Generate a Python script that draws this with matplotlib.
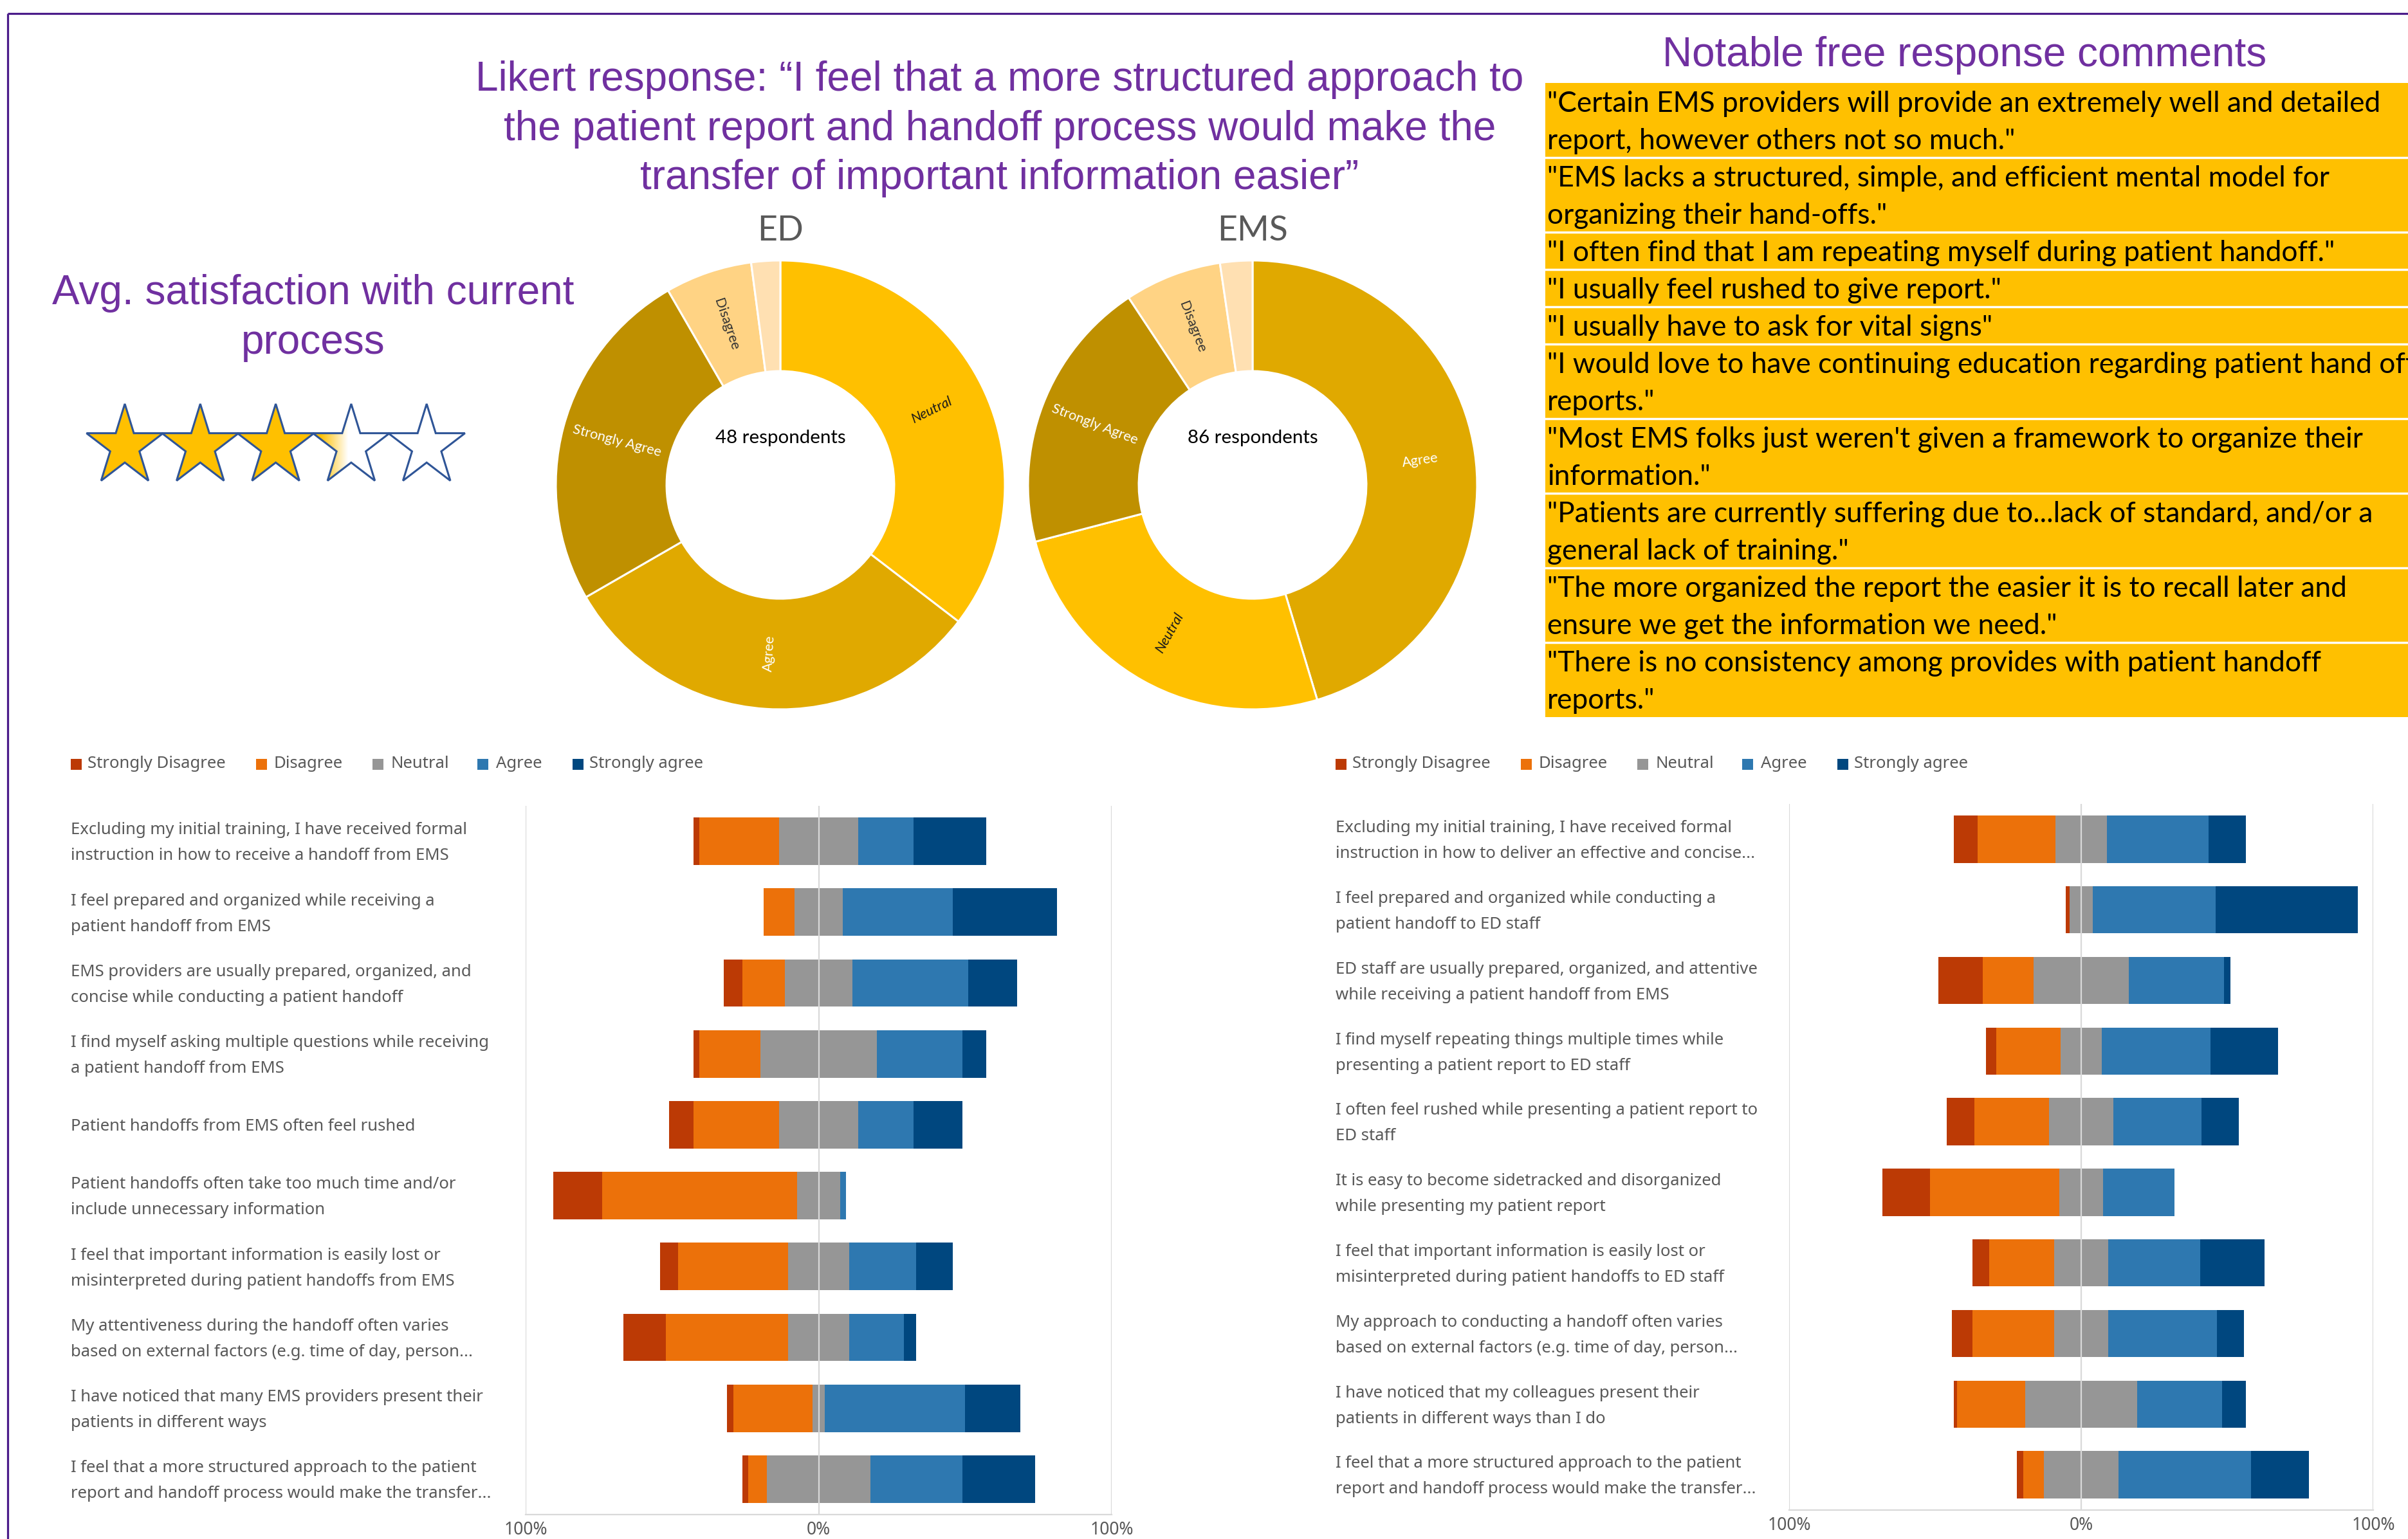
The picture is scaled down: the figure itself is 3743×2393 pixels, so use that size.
import numpy as np
import matplotlib
matplotlib.use('Agg')
import matplotlib.pyplot as plt
from matplotlib.patches import Polygon, Rectangle

# ---------------- data ----------------
title_lines = ['Likert response: \u201cI feel that a more structured approach to',
               'the patient report and handoff process would make the',
               'transfer of important information easier\u201d']
sat_title = ['Avg. satisfaction with current', 'process']
avg_satisfaction = 3.3
max_stars = 5

donut_titles = ['ED', 'EMS']
donut_levels = ['Strongly Disagree', 'Disagree', 'Neutral', 'Agree', 'Strongly Agree']
ed_donut = [1, 3, 17, 15, 12]
ems_donut = [2, 6, 22, 39, 17]
donut_center = ['48 respondents', '86 respondents']

comments_title = 'Notable free response comments'
comments = [
    ['"Certain EMS providers will provide an extremely well and detailed', 'report, however others not so much."'],
    ['"EMS lacks a structured, simple, and efficient mental model for', 'organizing their hand-offs."'],
    ['"I often find that I am repeating myself during patient handoff."'],
    ['"I usually feel rushed to give report."'],
    ['"I usually have to ask for vital signs"'],
    ['"I would love to have continuing education regarding patient hand off', 'reports."'],
    ['"Most EMS folks just weren\'t given a framework to organize their', 'information."'],
    ['"Patients are currently suffering due to...lack of standard, and/or a', 'general lack of training."'],
    ['"The more organized the report the easier it is to recall later and', 'ensure we get the information we need."'],
    ['"There is no consistency among provides with patient handoff', 'reports."'],
]

likert_levels = ['Strongly Disagree', 'Disagree', 'Neutral', 'Agree', 'Strongly agree']

ed_questions = [
    ['Excluding my initial training, I have received formal', 'instruction in how to receive a handoff from EMS'],
    ['I feel prepared and organized while receiving a', 'patient handoff from EMS'],
    ['EMS providers are usually prepared, organized, and', 'concise while conducting a patient handoff'],
    ['I find myself asking multiple questions while receiving', 'a patient handoff from EMS'],
    ['Patient handoffs from EMS often feel rushed'],
    ['Patient handoffs often take too much time and/or', 'include unnecessary information'],
    ['I feel that important information is easily lost or', 'misinterpreted during patient handoffs from EMS'],
    ['My attentiveness during the handoff often varies', 'based on external factors (e.g. time of day, person...'],
    ['I have noticed that many EMS providers present their', 'patients in different ways'],
    ['I feel that a more structured approach to the patient', 'report and handoff process would make the transfer...'],
]
ed_n = 48
ed_sd = [1, 0, 3, 1, 4, 8, 3, 7, 1, 1]
ed_d = [13, 5, 7, 10, 14, 32, 18, 20, 13, 3]
ed_ne = [13, 8, 11, 19, 13, 7, 10, 10, 2, 17]
ed_a = [9, 18, 19, 14, 9, 1, 11, 9, 23, 15]
ed_sa = [12, 17, 8, 4, 8, 0, 6, 2, 9, 12]

ems_questions = [
    ['Excluding my initial training, I have received formal', 'instruction in how to deliver an effective and concise...'],
    ['I feel prepared and organized while conducting a', 'patient handoff to ED staff'],
    ['ED staff are usually prepared, organized, and attentive', 'while receiving a patient handoff from EMS'],
    ['I find myself repeating things multiple times while', 'presenting a patient report to ED staff'],
    ['I often feel rushed while presenting a patient report to', 'ED staff'],
    ['It is easy to become sidetracked and disorganized', 'while presenting my patient report'],
    ['I feel that important information is easily lost or', 'misinterpreted during patient handoffs to ED staff'],
    ['My approach to conducting a handoff often varies', 'based on external factors (e.g. time of day, person...'],
    ['I have noticed that my colleagues present their', 'patients in different ways than I do'],
    ['I feel that a more structured approach to the patient', 'report and handoff process would make the transfer...'],
]
ems_n = 86
ems_sd = [7, 1, 13, 3, 8, 14, 5, 6, 1, 2]
ems_d = [23, 0, 15, 19, 22, 38, 19, 24, 20, 6]
ems_ne = [15, 7, 28, 12, 19, 13, 16, 16, 33, 22]
ems_a = [30, 36, 28, 32, 26, 21, 27, 32, 25, 39]
ems_sa = [11, 42, 2, 20, 11, 0, 19, 8, 7, 17]

axis_ticks = [-100, 0, 100]
axis_ticklabels = ['100%', '0%', '100%']

# ---------------- styles ----------------
PURPLE = '#7030A0'
FRAME = '#4B1C8A'
GOLD = '#FFC000'
GRAYTXT = '#595959'
BAR_COLORS = ['#BC3A05', '#EC710A', '#969696', '#2E78B0', '#00477F']
DONUT_COLORS = {'Strongly Disagree': '#FFE0B2', 'Disagree': '#FFD384', 'Neutral': '#FFC000',
                'Agree': '#E0A900', 'Strongly Agree': '#BF9000'}
DONUT_TXT = {'Strongly Disagree': '#333333', 'Disagree': '#333333', 'Neutral': '#1a1a1a',
             'Agree': 'white', 'Strongly Agree': 'white'}
TITLE_FONT = 'Liberation Sans'
BODY_FONT = 'Lato'
CHART_FONT = 'Noto Sans'

W, H = 3743, 2393
fig = plt.figure(figsize=(W / 100, H / 100), dpi=100)
fig.patch.set_facecolor('white')
bg = fig.add_axes([0, 0, 1, 1])
bg.set_xlim(0, W)
bg.set_ylim(H, 0)
bg.axis('off')
renderer = fig.canvas.get_renderer()


def fax(x0, y0, x1, y1):
    return fig.add_axes([x0 / W, 1 - y1 / H, (x1 - x0) / W, (y1 - y0) / H])


def fit(t, target):
    w = t.get_window_extent(renderer).width
    t.set_fontsize(t.get_fontsize() * target / w)
    return t.get_fontsize()


# ---------------- frame ----------------
bg.plot([12, W + 5], [21, 21], color=FRAME, lw=2.3, solid_capstyle='butt')
bg.plot([12, 12], [21, H + 5], color=FRAME, lw=2.3, solid_capstyle='butt')

# ---------------- main title ----------------
t = bg.text(1554, 124, title_lines[0], ha='center', va='center', color=PURPLE,
            family=TITLE_FONT, fontsize=40)
fs = fit(t, 1630)
for line, y in zip(title_lines[1:], [201, 277]):
    bg.text(1554, y, line, ha='center', va='center', color=PURPLE, family=TITLE_FONT, fontsize=fs)

# ---------------- satisfaction ----------------
t = bg.text(487, 456, sat_title[0], ha='center', va='center', color=PURPLE, family=TITLE_FONT, fontsize=40)
fs = fit(t, 812)
bg.text(487, 533, sat_title[1], ha='center', va='center', color=PURPLE, family=TITLE_FONT, fontsize=fs)


def star_pts(cx, cy, rx, ry):
    pts = []
    for k in range(10):
        a = np.deg2rad(90 + 36 * k)
        f = 1.0 if k % 2 == 0 else 0.382
        pts.append((cx + rx * f * np.cos(a), cy - ry * f * np.sin(a)))
    return pts


rx, ry, cy = 62.6, 66.0, 694
for i in range(max_stars):
    cx = 194 + 117.3 * i
    pts = star_pts(cx, cy, rx, ry)
    frac = float(np.clip(avg_satisfaction - i, 0, 1))
    face = GOLD if frac >= 1 else 'white'
    bg.add_patch(Polygon(pts, closed=True, facecolor=face, edgecolor='none', zorder=2))
    if 0 < frac < 1:
        w = 2 * rx * 0.951
        x0 = cx - w / 2
        xs = np.linspace(x0, x0 + w, 300)
        s0, s1 = x0 + (frac - 0.2) * w, x0 + (frac + 0.16) * w
        alpha = np.clip((s1 - xs) / (s1 - s0), 0, 1)
        img = np.zeros((2, 300, 4))
        img[..., 0], img[..., 1], img[..., 2] = 1.0, 0.753, 0.0
        img[..., 3] = alpha
        im = bg.imshow(img, extent=[x0, x0 + w, cy + ry, cy - ry], aspect='auto', zorder=3,
                       interpolation='bilinear')
        clip = Polygon(pts, closed=True, facecolor='none', edgecolor='none', transform=bg.transData)
        bg.add_patch(clip)
        im.set_clip_path(clip)
    bg.add_patch(Polygon(pts, closed=True, facecolor='none', edgecolor='#2F5597', lw=2.2, zorder=4))

# ---------------- donuts ----------------
R = 349
title_fs = None
tmp = bg.text(0, 0, 'Strongly Agree', family=BODY_FONT, fontsize=15)
dl_fs = fit(tmp, 142)
tmp.remove()
for k, (cx, counts) in enumerate(zip([1213, 1947], [ed_donut, ems_donut])):
    ax = fax(cx - 360, 754 - 360, cx + 360, 754 + 360)
    order = sorted(range(len(counts)), key=lambda i: -counts[i])
    vals = [counts[i] for i in order]
    cats = [donut_levels[i] for i in order]
    wedges, _ = ax.pie(vals, colors=[DONUT_COLORS[c] for c in cats], startangle=90,
                       counterclock=False, radius=1,
                       wedgeprops=dict(width=0.493, edgecolor='white', linewidth=2.2))
    ax.set_xlim(-360 / R, 360 / R)
    ax.set_ylim(-360 / R, 360 / R)
    ax.set_aspect('equal')
    ax.axis('off')
    for wdg, c in zip(wedges, cats):
        if c == 'Strongly Disagree':
            continue
        mid = (wdg.theta1 + wdg.theta2) / 2
        rr = 0.7535
        x, y = rr * np.cos(np.deg2rad(mid)), rr * np.sin(np.deg2rad(mid))
        rot = ((mid + 90) % 180) - 90
        ax.text(x, y, c, ha='center', va='center', rotation=rot, rotation_mode='anchor',
                color=DONUT_TXT[c], family=BODY_FONT, fontsize=dl_fs,
                style='italic' if c == 'Neutral' else 'normal')
    ct = ax.text(0, 0.21, donut_center[k], ha='center', va='center', color='black',
                 family=BODY_FONT, fontsize=20)
    fit(ct, 203)
    tt2 = bg.text(cx, 358, donut_titles[k], ha='center', va='center', color=GRAYTXT,
                  family=BODY_FONT, fontsize=44)
    if k == 0:
        tmp = bg.text(0, 0, 'EMS', family=BODY_FONT, fontsize=44)
        title_fs = fit(tmp, 110)
        tmp.remove()
    tt2.set_fontsize(title_fs)

# ---------------- comments ----------------
t = bg.text(3054, 86, comments_title, ha='center', va='center', color=PURPLE,
            family=TITLE_FONT, fontsize=40)
fit(t, 938)
box_top, line_h, box_x = 129, 58, 2402
nlines = sum(len(c) for c in comments)
bg.add_patch(Rectangle((box_x, box_top), W - box_x + 10, nlines * line_h, facecolor=GOLD,
                       edgecolor='none', zorder=1))
tmp = bg.text(0, 0, comments[0][0], family=BODY_FONT, fontsize=28)
cfs = fit(tmp, 1294)
tmp.remove()
em = cfs * 100 / 72
y = box_top
for i, c in enumerate(comments):
    for j, line in enumerate(c):
        base = y + line_h * j + line_h / 2 + 0.36 * em
        bg.text(2405, base, line, ha='left', va='baseline', color='black', family=BODY_FONT,
                fontsize=cfs, zorder=2, clip_on=False)
    y += line_h * len(c)
    if i < len(comments) - 1:
        bg.plot([box_x, W + 5], [y, y], color='white', lw=2.5, zorder=3)

# ---------------- likert bar charts ----------------
tmp = bg.text(0, 0, 'Excluding my initial training, I have received formal', family=CHART_FONT, fontsize=16)
lab_fs = fit(tmp, 617)
tmp.remove()
tmp = bg.text(0, 0, 'Strongly Disagree', family=CHART_FONT, fontsize=16)
leg_fs = fit(tmp, 215)
tmp.remove()
tmp = bg.text(0, 0, '100%', family=CHART_FONT, fontsize=16)
tick_fs = fit(tmp, 68)
tmp.remove()


def likert(box, questions, n, series, label_x, legend_y, marker_xs, text_xs):
    x0, y0, x1, y1 = box
    ax = fax(x0, y0, x1, y1)
    sd, d, ne, a, sa = [np.array(s, dtype=float) / n * 100 for s in series]
    yy = np.arange(len(questions))
    h = 0.67
    ax.barh(yy, ne, left=-ne / 2, height=h, color=BAR_COLORS[2], zorder=2)
    ax.barh(yy, d, left=-ne / 2 - d, height=h, color=BAR_COLORS[1], zorder=2)
    ax.barh(yy, sd, left=-ne / 2 - d - sd, height=h, color=BAR_COLORS[0], zorder=2)
    ax.barh(yy, a, left=ne / 2, height=h, color=BAR_COLORS[3], zorder=2)
    ax.barh(yy, sa, left=ne / 2 + a, height=h, color=BAR_COLORS[4], zorder=2)
    ax.set_xlim(-100, 100)
    ax.set_ylim(len(questions) - 0.5, -0.5)
    for xv in axis_ticks:
        ax.axvline(xv, color='#D9D9D9', lw=1.6, zorder=3 if xv == 0 else 1)
    for s in ['top', 'left', 'right']:
        ax.spines[s].set_visible(False)
    ax.spines['bottom'].set_color('#D9D9D9')
    ax.spines['bottom'].set_linewidth(1.6)
    ax.set_yticks([])
    ax.set_xticks(axis_ticks)
    ax.set_xticklabels(axis_ticklabels, family=CHART_FONT, fontsize=tick_fs, color=GRAYTXT)
    ax.tick_params(axis='x', length=0, pad=7)
    step = (y1 - y0) / len(questions)
    em_l = lab_fs * 100 / 72
    for i, q in enumerate(questions):
        c = y0 + (i + 0.5) * step
        offs = [0] if len(q) == 1 else [-20, 20]
        for line, o in zip(q, offs):
            bg.text(label_x, c + o + 0.36 * em_l, line, ha='left', va='baseline', color=GRAYTXT,
                    family=CHART_FONT, fontsize=lab_fs)
    for lvl, col, mx, tx in zip(likert_levels, BAR_COLORS, marker_xs, text_xs):
        bg.add_patch(Rectangle((mx, legend_y - 8.5), 17, 17, facecolor=col, edgecolor='none'))
        bg.text(tx, legend_y, lvl, ha='left', va='center', color=GRAYTXT, family=CHART_FONT,
                fontsize=leg_fs)


right_markers = [2076, 2364, 2545, 2708, 2856]
right_texts = [2102, 2391, 2573, 2737, 2882]
likert((817, 1253, 1728, 2355), ed_questions, ed_n, [ed_sd, ed_d, ed_ne, ed_a, ed_sa],
       110, 1188, [m - 1966 for m in right_markers], [t_ - 1966 for t_ in right_texts])
likert((2781, 1250, 3689, 2348), ems_questions, ems_n, [ems_sd, ems_d, ems_ne, ems_a, ems_sa],
       2076, 1188, right_markers, right_texts)

bg.set_xlim(0, W)
bg.set_ylim(H, 0)
fig.savefig('out.png', dpi=100, facecolor='white')
